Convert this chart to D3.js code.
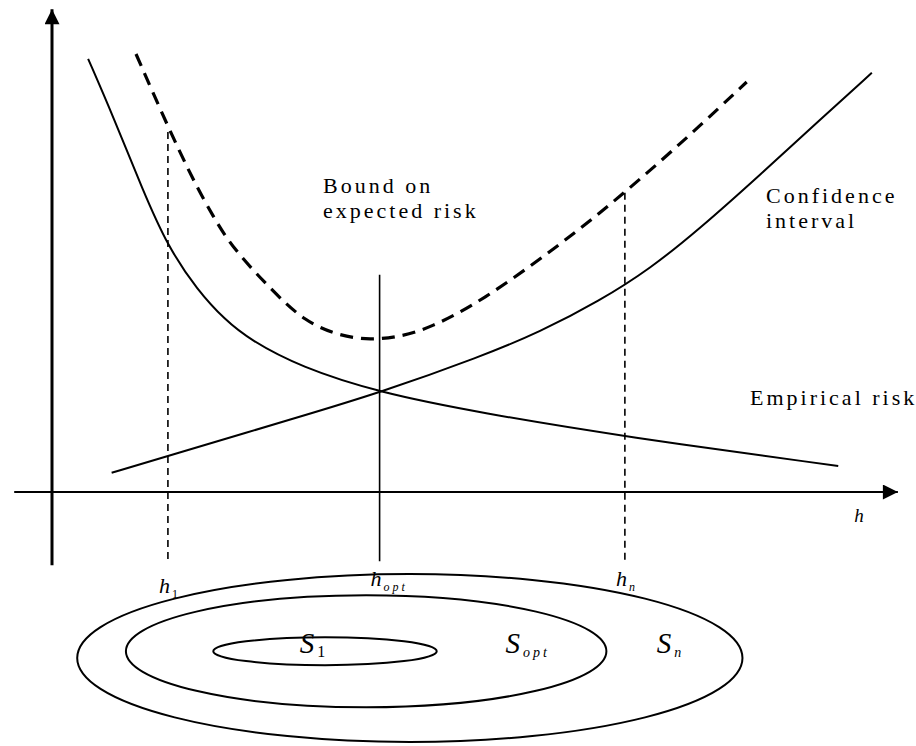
<!DOCTYPE html>
<html>
<head>
<meta charset="utf-8">
<script src="https://cdn.jsdelivr.net/npm/d3@7"></script>
<style>
  body { margin: 0; background: #fff; }
  svg text { font-family: "Liberation Serif", "Times New Roman", Times, "DejaVu Serif", serif; }
</style>
</head>
<body>
<div id="chart"></div>
<script>
const width = 916, height = 746;

// complexity h (x) and risk (y), in chart units
const empH    = [0.43, 0.73, 1.08, 1.38, 1.73, 2.06, 2.36, 2.95, 3.9, 5.1, 6.82, 9.36];
const empRisk = [10.83, 9.38, 7.55, 6.13, 5.05, 4.3, 3.8, 3.13, 2.48, 1.98, 1.38, 0.65];

const confH    = [0.71, 1.38, 2.95, 3.9, 5.1, 5.81, 6.52, 7.12, 7.71, 8.43, 9.14, 9.76];
const confRisk = [0.48, 0.9, 1.88, 2.48, 3.38, 4.0, 4.78, 5.58, 6.58, 7.93, 9.3, 10.48];

const boundH    = [1.0, 1.38, 1.68, 1.92, 2.15, 2.6, 3.01, 3.43, 3.79, 4.14, 4.5, 5.1, 6.05, 6.82, 7.6, 8.27];
const boundRisk = [10.95, 9.13, 7.8, 6.88, 6.1, 5.08, 4.25, 3.9, 3.8, 3.88, 4.1, 4.75, 6.18, 7.48, 8.93, 10.25];

// structure members h1, hopt, hn
const guideH     = [1.38, 3.9, 6.82];
const guideTop   = [9.0, 5.43, 7.48];
const guideDash  = [true, false, true];
const guideLabel = [["h", "1"], ["h", "opt"], ["h", "n"]];

// nested structure S1 ⊂ Sopt ⊂ Sn (centre, radii in chart units)
const ringCx = [4.26, 3.74, 3.25];
const ringCy = [-4.15, -3.98, -3.98];
const ringRx = [3.96, 2.86, 1.33];
const ringRy = [2.1, 1.4, 0.35];
const ringLabel = [["S", "n"], ["S", "opt"], ["S", "1"]];
const ringLabelH = [7.2, 5.4, 2.95];

const x = d3.scaleLinear().domain([0, 10]).range([52, 892]);
const y = d3.scaleLinear().domain([0, 11]).range([492, 52]);

const svg = d3.select("#chart").append("svg")
  .attr("width", width).attr("height", height);

// arrow heads
const defs = svg.append("defs");
defs.append("marker").attr("id", "arrow")
  .attr("viewBox", "0 0 10 10").attr("refX", 10).attr("refY", 5)
  .attr("markerWidth", 16).attr("markerHeight", 15)
  .attr("markerUnits", "userSpaceOnUse")
  .attr("orient", "auto")
  .append("path").attr("d", "M0,0 L10,5 L0,10 Z").attr("fill", "#000");

// axes
svg.append("line")
  .attr("x1", x(-0.45)).attr("x2", x(10.07))
  .attr("y1", y(0)).attr("y2", y(0))
  .attr("stroke", "#000").attr("stroke-width", 2)
  .attr("marker-end", "url(#arrow)");
svg.append("line")
  .attr("x1", x(0)).attr("x2", x(0))
  .attr("y1", y(-1.83)).attr("y2", y(12.07))
  .attr("stroke", "#000").attr("stroke-width", 3)
  .attr("marker-end", "url(#arrow)");

svg.append("text").attr("x", x(9.55)).attr("y", y(-0.75))
  .style("font-style", "italic").style("font-size", "19px").text("h");

const line = d3.line().x(d => x(d[0])).y(d => y(d[1]))
  .curve(d3.curveBasis);

svg.append("path").datum(d3.zip(empH, empRisk))
  .attr("d", line).attr("fill", "none").attr("stroke", "#000").attr("stroke-width", 2);
svg.append("path").datum(d3.zip(confH, confRisk))
  .attr("d", line).attr("fill", "none").attr("stroke", "#000").attr("stroke-width", 2);
svg.append("path").datum(d3.zip(boundH, boundRisk))
  .attr("d", line).attr("fill", "none").attr("stroke", "#000")
  .attr("stroke-width", 3.2).attr("stroke-dasharray", "13,8");

// vertical guides
guideH.forEach((h, i) => {
  svg.append("line")
    .attr("x1", x(h)).attr("x2", x(h))
    .attr("y1", y(guideTop[i])).attr("y2", y(-1.73))
    .attr("stroke", "#000")
    .attr("stroke-width", 1.6)
    .attr("stroke-dasharray", guideDash[i] ? "7,5" : null);
  const t = svg.append("text")
    .attr("x", x(h) - 9).attr("y", i === 0 ? 593 : 586)
    .style("font-style", "italic").style("font-size", "22px");
  t.append("tspan").text(guideLabel[i][0]);
  t.append("tspan").attr("dy", 5).style("font-size", "12px")
    .style("font-style", guideLabel[i][1] === "1" ? "normal" : "italic")
    .style("letter-spacing", "3px").attr("dx", 2).text(guideLabel[i][1]);
});

// ellipses
ringCx.forEach((cx, i) => {
  svg.append("ellipse")
    .attr("cx", x(cx)).attr("cy", y(ringCy[i]))
    .attr("rx", x(ringRx[i]) - x(0)).attr("ry", y(0) - y(ringRy[i]))
    .attr("fill", "none").attr("stroke", "#000").attr("stroke-width", 2);
  const t = svg.append("text")
    .attr("x", x(ringLabelH[i])).attr("y", 653)
    .style("font-style", "italic").style("font-size", "29px");
  t.append("tspan").text(ringLabel[i][0]);
  t.append("tspan").attr("dy", 4).attr("dx", 3)
    .style("font-size", ringLabel[i][1] === "1" ? "16px" : "14px")
    .style("font-style", ringLabel[i][1] === "1" ? "normal" : "italic")
    .style("letter-spacing", "3px").text(ringLabel[i][1]);
});

// annotations
const notes = [
  {x: 323, y: 193, lines: ["Bound on", "expected risk"]},
  {x: 766, y: 203, lines: ["Confidence", "interval"]},
  {x: 750, y: 405, lines: ["Empirical risk"]}
];
notes.forEach(n => {
  n.lines.forEach((s, j) => {
    svg.append("text").attr("x", n.x).attr("y", n.y + j * 25)
      .style("font-size", "22px").style("letter-spacing", "3px").text(s);
  });
});
</script>
</body>
</html>
